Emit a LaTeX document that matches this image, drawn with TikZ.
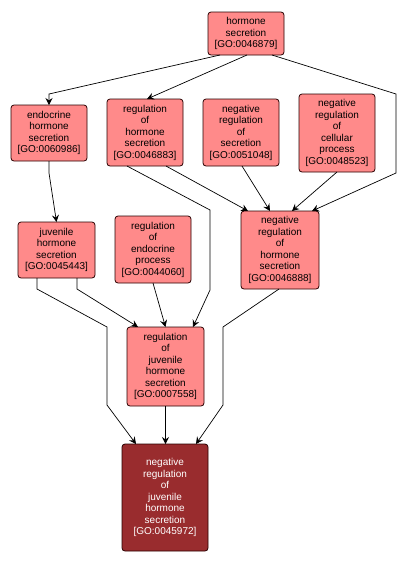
\documentclass[tikz,border=0pt]{standalone}
\usepackage{fontspec}
\setmainfont{Liberation Sans}
\usetikzlibrary{arrows.meta,calc}
\definecolor{gopink}{RGB}{255,138,138}
\definecolor{godark}{RGB}{153,44,46}
\definecolor{goedge}{RGB}{40,0,0}
\tikzset{
  gobox/.style={draw=goedge, line width=0.8pt, fill=gopink, rounded corners=3pt,
    inner sep=0pt, outer sep=0pt, align=center, text width=#1,
    font=\fontsize{10}{11.5}\selectfont},
  gobox/.default=76pt,
  gosel/.style={gobox=86pt, fill=godark, text=white},
  goarrow/.style={draw=black, line width=0.7pt, -{Stealth[length=7pt,width=7pt,inset=2.5pt]}},
}
\begin{document}
\begin{tikzpicture}[x=1pt,y=-1pt]
\useasboundingbox (0,0) rectangle (406,566);
\node[gobox, minimum height=43pt] (hs) at (246,33.5) {hormone\\secretion\\{[GO:0046879]}};
\node[gobox, minimum height=56pt] (ehs) at (49,133) {endocrine\\hormone\\secretion\\{[GO:0060986]}};
\node[gobox, minimum height=67pt] (rhs) at (145,132.5) {regulation\\of\\hormone\\secretion\\{[GO:0046883]}};
\node[gobox, minimum height=67pt] (nrs) at (241,132.5) {negative\\regulation\\of\\secretion\\{[GO:0051048]}};
\node[gobox, minimum height=78pt] (nrcp) at (337,133) {negative\\regulation\\of\\cellular\\process\\{[GO:0048523]}};
\node[gobox=77pt, minimum height=56pt] (jhs) at (56.5,250) {juvenile\\hormone\\secretion\\{[GO:0045443]}};
\node[gobox, minimum height=67pt] (rep) at (153,249.5) {regulation\\of\\endocrine\\process\\{[GO:0044060]}};
\node[gobox=78pt, minimum height=78pt] (nrhs) at (280,250) {negative\\regulation\\of\\hormone\\secretion\\{[GO:0046888]}};
\node[gobox=77pt, minimum height=79pt] (rjhs) at (165.5,366.5) {regulation\\of\\juvenile\\hormone\\secretion\\{[GO:0007558]}};
\node[gosel, minimum height=107pt] (nrjhs) at (165,497.5) {negative\\regulation\\of\\juvenile\\hormone\\secretion\\{[GO:0045972]}};

\coordinate (b1) at (49,94);
\coordinate (b3a) at (396,94);
\coordinate (b3b) at (396,173);
\coordinate (b4) at (49,173);
\coordinate (b5a) at (210,210);
\coordinate (b5b) at (210,290);
\coordinate (b9) at (77,289);
\coordinate (b10a) at (37,289);
\coordinate (b10b) at (107,327);
\coordinate (b10c) at (107,405);
\coordinate (b12a) at (223,327);
\coordinate (b12b) at (223,405);

\draw[goarrow] ($(hs.south)+(-26,0)$) -- (b1) -- (ehs.north);
\draw[goarrow] ($(hs.south)+(1,0)$) -- ($(rhs.north)+(2,0)$);
\draw[goarrow] ($(hs.south)+(26,0)$) -- (b3a) -- (b3b) -- ($(nrhs.north)+(32,0)$);
\draw[goarrow] (ehs.south) -- (b4) -- (jhs.north);
\draw[goarrow] ($(rhs.south)+(-18,0)$) -- (b5a) -- (b5b) -- ($(rjhs.north)+(27.5,0)$);
\draw[goarrow] ($(rhs.south)+(21,0)$) -- ($(nrhs.north)+(-32,0)$);
\draw[goarrow] ($(nrs.south)+(1,0)$) -- ($(nrhs.north)+(-10,0)$);
\draw[goarrow] (nrcp.south) -- ($(nrhs.north)+(12,0)$);
\draw[goarrow] ($(jhs.south)+(20.5,0)$) -- (b9) -- ($(rjhs.north)+(-27.5,0)$);
\draw[goarrow] ($(jhs.south)+(-19.5,0)$) -- (b10a) -- (b10b) -- (b10c) -- ($(nrjhs.north)+(-29,0)$);
\draw[goarrow] (rep.south) -- (rjhs.north);
\draw[goarrow] ($(nrhs.south)+(-1,0)$) -- (b12a) -- (b12b) -- ($(nrjhs.north)+(31,0)$);
\draw[goarrow] (rjhs.south) -- (rjhs.south |- nrjhs.north);
\end{tikzpicture}
\end{document}
